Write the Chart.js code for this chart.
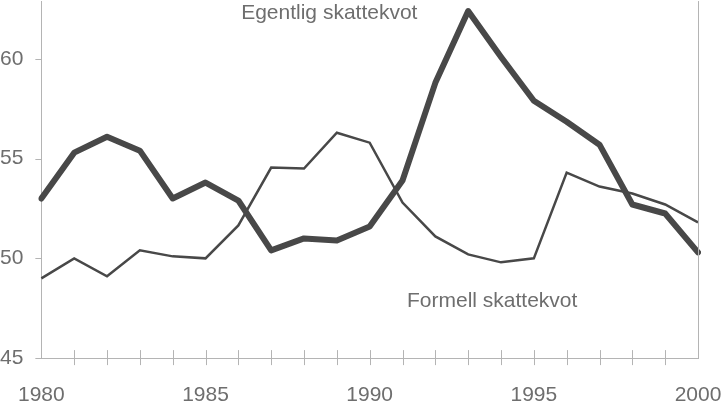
<!DOCTYPE html>
<html>
<head>
<meta charset="utf-8">
<script src="https://cdn.jsdelivr.net/npm/chart.js@4"></script>
<style>
  html, body { margin: 0; padding: 0; background: #fff; }
  #wrap { width: 722px; height: 405px; }
</style>
</head>
<body>
<div id="wrap"><canvas id="c"></canvas></div>
<script>
const YEARS = [1980,1981,1982,1983,1984,1985,1986,1987,1988,1989,1990,
               1991,1992,1993,1994,1995,1996,1997,1998,1999,2000];
const EGENTLIG = [53.0,55.3,56.1,55.4,53.0,53.8,52.9,50.4,51.0,50.9,51.6,
                  53.9,58.8,62.4,60.1,57.9,56.85,55.7,52.7,52.25,50.3];
const FORMELL  = [49.0,50.0,49.1,50.4,50.1,50.0,51.65,54.55,54.5,56.3,55.8,
                  52.8,51.1,50.2,49.8,50.0,54.3,53.6,53.25,52.7,51.8];
const Y_TICKS = [45, 50, 55, 60];
// series labels placed in the plot: [text, year index (fractional), value]
const NOTES = [
  ['Egentlig skattekvot', 8.77, 62.3],
  ['Formell skattekvot', 13.73, 47.85],
];

const AXIS = '#b4b4b4';
const INK  = '#484848';
const TXT  = '#6e6e6e';
const FONT = '"Liberation Sans", Arial, sans-serif';

// visible tick marks, right frame line and in-plot labels
const extras = {
  id: 'extras',
  afterDraw(chart) {
    const { ctx, chartArea: a, scales: { x, y } } = chart;
    ctx.save();
    ctx.strokeStyle = AXIS;
    ctx.lineWidth = 1;
    ctx.beginPath();
    for (let i = 1; i < YEARS.length - 1; i++) {
      const px = Math.round(x.getPixelForValue(i)) + 0.5;
      ctx.moveTo(px, a.bottom - 8);
      ctx.lineTo(px, a.bottom + 7);
    }
    Y_TICKS.forEach(v => {
      const py = Math.round(y.getPixelForValue(v)) + 0.5;
      ctx.moveTo(a.left - 6, py);
      ctx.lineTo(a.left, py);
    });
    ctx.moveTo(Math.round(a.right) + 0.5, a.top);
    ctx.lineTo(Math.round(a.right) + 0.5, a.bottom);
    ctx.stroke();

    ctx.fillStyle = TXT;
    ctx.font = '21px ' + FONT;
    ctx.textAlign = 'center';
    ctx.textBaseline = 'middle';
    NOTES.forEach(([t, xi, v]) => {
      ctx.fillText(t, x.getPixelForValue(xi), y.getPixelForValue(v));
    });
    ctx.restore();
  }
};

new Chart(document.getElementById('c'), {
  type: 'line',
  data: {
    labels: YEARS,
    datasets: [
      {
        label: 'Egentlig skattekvot',
        data: EGENTLIG,
        borderColor: INK,
        borderWidth: 6,
        pointRadius: 0,
        tension: 0,
        borderJoinStyle: 'round',
        borderCapStyle: 'round',
      },
      {
        label: 'Formell skattekvot',
        data: FORMELL,
        borderColor: INK,
        borderWidth: 2.5,
        pointRadius: 0,
        tension: 0,
      },
    ],
  },
  options: {
    responsive: true,
    maintainAspectRatio: false,
    animation: false,
    layout: { padding: { top: 0, right: 24, bottom: 0, left: 0 } },
    plugins: { legend: { display: false }, tooltip: { enabled: false } },
    scales: {
      x: {
        grid: { drawOnChartArea: false, tickLength: 28, color: 'rgba(0,0,0,0)' },
        border: { display: true, color: AXIS, width: 1 },
        ticks: {
          autoSkip: false, maxRotation: 0, padding: 0,
          color: TXT,
          font: { family: FONT, size: 21, lineHeight: 0.9 },
          callback: (v, i) => YEARS[i] % 5 === 0 ? String(YEARS[i]) : '',
        },
      },
      y: {
        min: 45,
        max: 62.9,
        afterBuildTicks: s => { s.ticks = Y_TICKS.map(v => ({ value: v })); },
        grid: { drawOnChartArea: false, tickLength: 18, color: 'rgba(0,0,0,0)' },
        border: { display: true, color: AXIS, width: 1 },
        ticks: {
          padding: 0,
          color: TXT,
          font: { family: FONT, size: 21, lineHeight: 0.1 },
        },
      },
    },
  },
  plugins: [extras],
});
</script>
</body>
</html>
